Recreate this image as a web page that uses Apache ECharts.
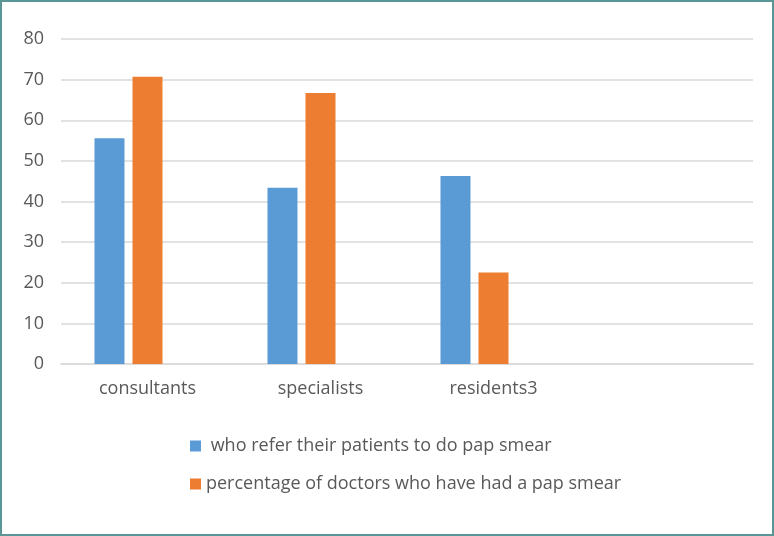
<!DOCTYPE html>
<html>
<head>
<meta charset="utf-8">
<script src="https://cdn.jsdelivr.net/npm/echarts@6/dist/echarts.min.js"></script>
<style>
html,body{margin:0;padding:0;background:#fff;}
#chart{width:774px;height:536px;}
</style>
</head>
<body>
<div id="chart"></div>
<script>
const categories = ['consultants', 'specialists', 'residents3', ''];
const seriesNames = [' who refer their patients to do pap smear', 'percentage of doctors who have had a pap smear'];
const referValues = [55.6, 43.4, 46.3, null];
const ownSmearValues = [70.7, 66.7, 22.5, null];
const emptyValues = [null, null, null, null];
const yTicks = { min: 0, max: 80, interval: 10 };

const font = '"Open Sans", "Noto Sans", sans-serif';
const chart = echarts.init(document.getElementById('chart'), null, { renderer: 'canvas' });
chart.setOption({
  animation: false,
  backgroundColor: '#fff',
  graphic: [{
    type: 'rect',
    shape: { x: 1, y: 1, width: 772, height: 534 },
    style: { fill: null, stroke: '#5b9696', lineWidth: 2 },
    silent: true
  }],
  grid: { left: 61, right: 21, top: 39, bottom: 172, containLabel: false },
  legend: {
    data: seriesNames,
    orient: 'vertical',
    left: 190,
    top: 436,
    padding: 0,
    icon: 'rect',
    itemWidth: 11,
    itemHeight: 11,
    itemGap: 18,
    textStyle: { color: '#595959', fontSize: 18, fontFamily: font, lineHeight: 20 }
  },
  xAxis: {
    type: 'category',
    data: categories,
    axisLine: { lineStyle: { color: '#d9d9d9', width: 1.5 } },
    axisTick: { show: false },
    axisLabel: { color: '#595959', fontSize: 18, fontFamily: font, margin: 16 }
  },
  yAxis: {
    type: 'value',
    min: yTicks.min,
    max: yTicks.max,
    interval: yTicks.interval,
    axisLine: { show: false },
    axisTick: { show: false },
    splitLine: { lineStyle: { color: '#d9d9d9', width: 1.5 } },
    axisLabel: { color: '#595959', fontSize: 18, fontFamily: font, margin: 17 }
  },
  series: [
    { name: seriesNames[0], type: 'bar', data: referValues, barWidth: 30, barGap: '26.7%', itemStyle: { color: '#5b9bd5' } },
    { name: seriesNames[1], type: 'bar', data: ownSmearValues, barWidth: 30, barGap: '26.7%', itemStyle: { color: '#ed7d31' } },
    { name: 'empty', type: 'bar', data: emptyValues, barWidth: 30, barGap: '26.7%', itemStyle: { color: '#a5a5a5' } }
  ]
});
</script>
</body>
</html>
